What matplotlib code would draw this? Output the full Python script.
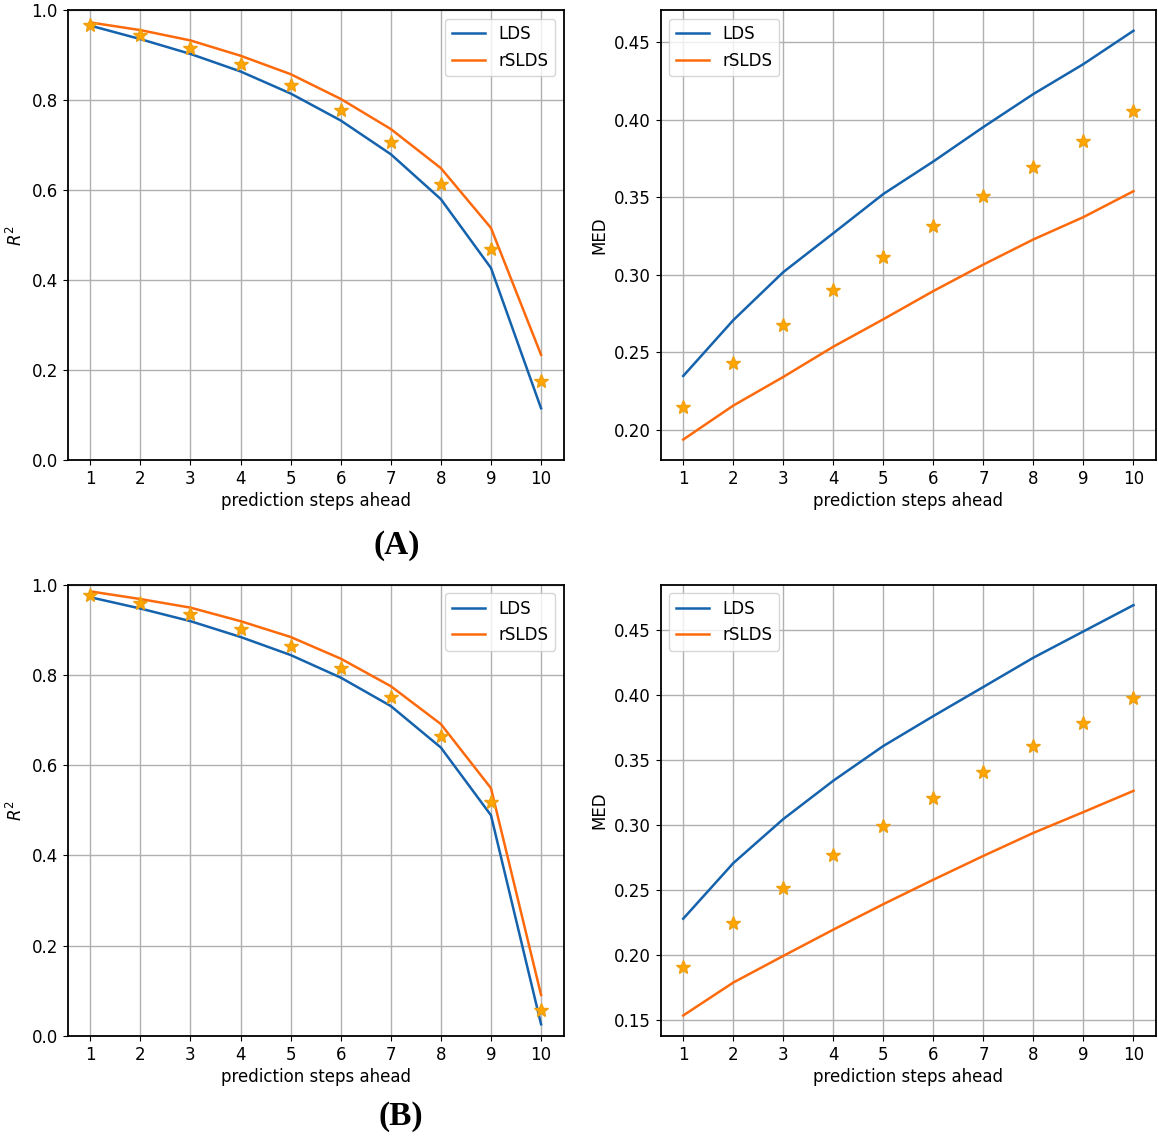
import matplotlib
matplotlib.use("Agg")
import matplotlib.pyplot as plt

steps = [1, 2, 3, 4, 5, 6, 7, 8, 9, 10]

# Panel A
a_r2_lds = [0.966, 0.936, 0.903, 0.864, 0.815, 0.755, 0.680, 0.580, 0.427, 0.115]
a_r2_rslds = [0.973, 0.956, 0.933, 0.899, 0.858, 0.803, 0.736, 0.649, 0.516, 0.234]
a_r2_star = [0.968, 0.946, 0.917, 0.880, 0.835, 0.778, 0.707, 0.613, 0.470, 0.175]
a_med_lds = [0.2348, 0.2708, 0.3018, 0.3269, 0.3522, 0.3732, 0.3954, 0.4167, 0.4360, 0.4575]
a_med_rslds = [0.1938, 0.2157, 0.2342, 0.2537, 0.2714, 0.2896, 0.3067, 0.3229, 0.3373, 0.3540]
a_med_star = [0.2146, 0.2430, 0.2679, 0.2903, 0.3118, 0.3313, 0.3506, 0.3695, 0.3861, 0.4056]

# Panel B
b_r2_lds = [0.972, 0.947, 0.919, 0.884, 0.844, 0.794, 0.731, 0.639, 0.489, 0.026]
b_r2_rslds = [0.985, 0.968, 0.949, 0.919, 0.884, 0.836, 0.775, 0.691, 0.549, 0.091]
b_r2_star = [0.977, 0.960, 0.934, 0.901, 0.863, 0.815, 0.751, 0.665, 0.519, 0.058]
b_med_lds = [0.2277, 0.2704, 0.3043, 0.3338, 0.3605, 0.3835, 0.4059, 0.4284, 0.4486, 0.4688]
b_med_rslds = [0.1533, 0.1786, 0.1991, 0.2193, 0.2389, 0.2577, 0.2760, 0.2937, 0.3097, 0.3260]
b_med_star = [0.1907, 0.2241, 0.2516, 0.2769, 0.2993, 0.3204, 0.3406, 0.3602, 0.3784, 0.3975]

BLUE = "#1562ad"
ORANGE = "#fd6a0c"
STAR = "#FFA500"

plt.rcParams["font.family"] = ["DejaVu Sans"]
plt.rcParams["font.size"] = 12

fig = plt.figure(figsize=(11.58, 11.40), dpi=100)

W, H = 1158, 1140
def rect(l, r, t, b):
    return [l / W, 1 - b / H, (r - l) / W, (b - t) / H]

ax_a1 = fig.add_axes(rect(67.7, 563.6, 10.3, 460))
ax_a2 = fig.add_axes(rect(660.7, 1156, 10.3, 460))
ax_b1 = fig.add_axes(rect(67.7, 563.6, 584.6, 1036))
ax_b2 = fig.add_axes(rect(660.7, 1156, 584.6, 1036))

def draw(ax, lds, rslds, star, ylabel, loc, r2=False):
    ax.plot(steps, lds, color=BLUE, lw=1.8, label="LDS", zorder=3)
    ax.plot(steps, rslds, color=ORANGE, lw=1.8, label="rSLDS", zorder=3)
    ax.plot(steps, star, linestyle="none", marker="*", ms=10, color=STAR,
            markeredgecolor="#f0a010", zorder=4)
    ax.set_xticks(steps)
    ax.grid(True, color="#b0b0b0", lw=1.0)
    ax.set_axisbelow(True)
    ax.set_xlabel("prediction steps ahead", fontsize=12, labelpad=3)
    ax.set_ylabel(ylabel, fontsize=12)
    if r2:
        ax.set_ylim(0, 1.0)
    ax.tick_params(labelsize=12)
    for s in ax.spines.values():
        s.set_linewidth(1.3)
    ax.legend(loc=loc, fontsize=12, handlelength=2.0, framealpha=0.8)

draw(ax_a1, a_r2_lds, a_r2_rslds, a_r2_star, "$R^2$", "upper right", r2=True)
draw(ax_a2, a_med_lds, a_med_rslds, a_med_star, "MED", "upper left")
draw(ax_b1, b_r2_lds, b_r2_rslds, b_r2_star, "$R^2$", "upper right", r2=True)
draw(ax_b2, b_med_lds, b_med_rslds, b_med_star, "MED", "upper left")

ax_a1.set_yticks([0.0, 0.2, 0.4, 0.6, 0.8, 1.0])
ax_b1.set_yticks([0.0, 0.2, 0.4, 0.6, 0.8, 1.0])

fig.text(397 / W, 1 - 546 / H, "(A)", ha="center", va="center",
         fontsize=24, fontweight="bold", family="Liberation Serif")
fig.text(401 / W, 1 - 1117 / H, "(B)", ha="center", va="center",
         fontsize=24, fontweight="bold", family="Liberation Serif")

fig.savefig("out.png", dpi=100)
